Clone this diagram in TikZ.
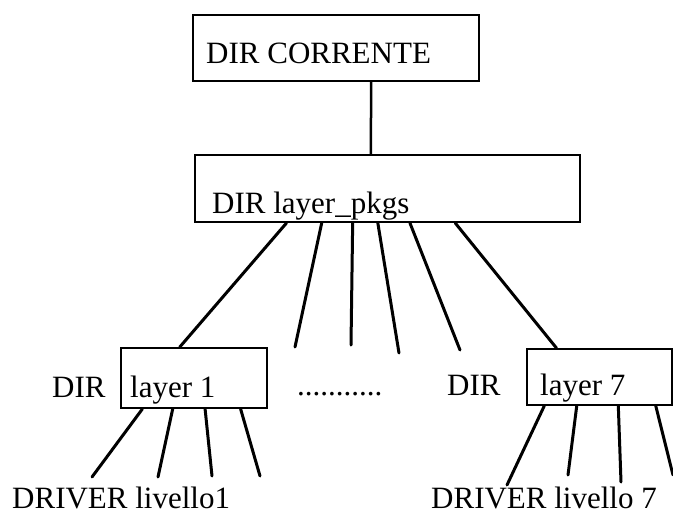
\documentclass[tikz,border=0pt]{standalone}
\usepackage{fontspec}
\setmainfont{Liberation Serif}
\usetikzlibrary{calc}

\tikzset{
  dirbox/.style={draw, rectangle, line width=2pt, inner sep=0pt},
  lbl/.style={font=\fontsize{31}{36}\selectfont, inner sep=0pt, anchor=base west},
  conn/.style={line width=3pt, line cap=round},
}

\begin{document}
\begin{tikzpicture}[x=1pt,y=-1pt]
  \useasboundingbox (0,0) rectangle (673,515);

  % directory boxes
  \node[dirbox, minimum width=286pt, minimum height=66pt] (corrente) at (336,48) {};
  \node[dirbox, minimum width=385pt, minimum height=67pt] (pkgs) at (387.5,188.5) {};
  \node[dirbox, minimum width=146pt, minimum height=60pt] (layer1) at (194,378) {};
  \node[dirbox, minimum width=145pt, minimum height=56pt] (layer7) at (599.5,377) {};

  % texts
  \node[lbl] (tcorrente) at (206,63) {DIR CORRENTE};
  \node[lbl] (tpkgs) at (212,213) {DIR layer\_pkgs};
  \node[lbl] (tdir1) at (52,397) {DIR};
  \node[lbl] (tlayer1) at (130,397) {layer 1};
  \node[lbl] (tdots) at (297,395) {...........};
  \node[lbl] (tdir7) at (447,395) {DIR};
  \node[lbl] (tlayer7) at (540,395) {layer 7};
  \node[lbl] (tdrv1) at (12,508) {DRIVER livello1};
  \node[lbl] (tdrv7) at (431,508) {DRIVER livello 7};

  % free ends
  \coordinate (sub2) at (295,347);
  \coordinate (sub3) at (351,345);
  \coordinate (sub4) at (399,353);
  \coordinate (sub5) at (460,350);
  \coordinate (drv1a) at (92,477);
  \coordinate (drv1b) at (158,477);
  \coordinate (drv1c) at (212,476);
  \coordinate (drv1d) at (260,476);
  \coordinate (drv7a) at (507,485);
  \coordinate (drv7b) at (568,475);
  \coordinate (drv7c) at (621,482);
  \coordinate (drv7d) at (673,475);

  \draw[line width=2.5pt] ($(corrente.south west)!0.622!(corrente.south east)$)
    -- ($(pkgs.north west)!0.457!(pkgs.north east)$);

  \draw[conn] ($(pkgs.south west)!0.239!(pkgs.south east)$)
    -- ($(layer1.north west)!0.404!(layer1.north east)$);
  \draw[conn] ($(pkgs.south west)!0.675!(pkgs.south east)$)
    -- ($(layer7.north west)!0.207!(layer7.north east)$);
  \foreach \f/\e in {0.330/sub2, 0.410/sub3, 0.475/sub4, 0.558/sub5}{
    \draw[conn] ($(pkgs.south west)!\f!(pkgs.south east)$) -- (\e);
  }

  \foreach \f/\e in {0.151/drv1a, 0.356/drv1b, 0.575/drv1c, 0.815/drv1d}{
    \draw[conn] ($(layer1.south west)!\f!(layer1.south east)$) -- (\e);
  }
  \foreach \f/\e in {0.124/drv7a, 0.345/drv7b, 0.628/drv7c, 0.883/drv7d}{
    \draw[conn] ($(layer7.south west)!\f!(layer7.south east)$) -- (\e);
  }
\end{tikzpicture}
\end{document}
